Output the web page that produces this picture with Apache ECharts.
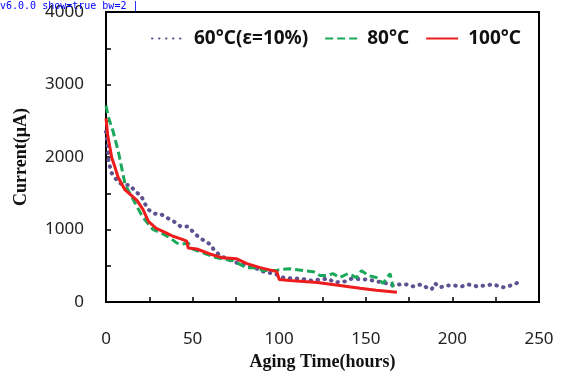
<!DOCTYPE html>
<html><head><meta charset="utf-8">
<script>
window.__errs = [];
window.addEventListener('error', e => window.__errs.push('E:' + e.message));
const _ce = console.error, _cw = console.warn;
console.error = function() { window.__errs.push('CE:' + Array.from(arguments).join(' ')); _ce.apply(console, arguments); };
console.warn = function() { window.__errs.push('CW:' + Array.from(arguments).join(' ')); _cw.apply(console, arguments); };
</script>
<script src="https://cdn.jsdelivr.net/npm/echarts@6/dist/echarts.min.js"></script>
<style>html,body{margin:0;padding:0;background:#fff}#c{width:570px;height:376px}#d{position:absolute;left:0;top:0;font:10px monospace;color:#00f;white-space:pre-wrap;width:560px}</style>
</head><body><div id="c"></div><div id="d"></div>
<script>
const xTicks = [0, 50, 100, 150, 200, 250];
const yTicks = [0, 1000, 2000, 3000, 4000];
const seriesNames = ['60°C(\u03b5=10%)', '80°C', '100°C'];

const hours60 = [0,1,1.5,3,5,7,10,14,17,20,22.5,24.5,28,32,36,40,43,47,50,53,57,60,62,66,70,75.6,81,87,89,93,97.6,102,108,112,118,124.7,128,132,138,142,149.5,154,162,165.8,169.7,173.5,177,182,185,188,190,192.8,196.8,200.6,205.5,209,214,219,223.6,229,234,238];
const current60 = [2350,2150,1950,1790,1722,1654,1613,1613,1519,1478,1356,1275,1220,1207,1152,1100,1044,1044,976,908,840,800,732,637,597,542,501,461,434,407,393,339,325,325,298,312,325,271,285,325,312,298,258,230,244,244,217,244,203,176,258,203,230,230,217,244,217,230,244,203,230,271];

const hours80 = [0,1.2,4,7,9,11,12.7,16,21,27,32,36,41,44,47.5,50,56,64,73.5,81,87,90.8,98.5,100,106,113.9,119.7,123.6,127.4,131,135,139.8,144.7,147.5,151.4,156,160,164,165.8];
const current80 = [2712,2563,2360,2088,1858,1627,1546,1400,1180,1003,950,900,813,800,813,732,678,610,569,475,475,434,434,447,461,434,420,366,366,393,339,393,339,434,366,339,258,393,203];

const hours100 = [0,1,3.3,5.2,7,11,15.6,18,21.4,24.5,29,35,38.7,43.7,46.6,47.5,52.4,60,67.5,75.5,81.4,89,98.6,100,106,122,135,146.6,156,168];
const current100 = [2535,2300,1993,1858,1722,1546,1450,1400,1275,1112,1017,950,908,868,840,745,732,664,610,597,530,475,420,312,298,271,230,190,163,136];

const zip = (a, b) => a.map((v, i) => [v, b[i]]);

const chart = echarts.init(document.getElementById('c'));
try {
chart.setOption({
  animation: false,
  grid: {left: 106, right: 31, top: 12, bottom: 69, show: true, borderColor: '#000', borderWidth: 2},
  legend: {
    top: 24, left: 146, itemWidth: 32, itemHeight: 10, itemGap: 16,
    itemStyle: {opacity: 0},
    textStyle: {fontFamily: 'Noto Sans', fontWeight: 'bold', fontSize: 19, color: '#111', padding: [0, 0, 0, 5]},
    data: seriesNames
  },
  xAxis: {
    type: 'value', min: 0, max: 250, interval: 25,
    axisLine: {show: true, onZero: false, lineStyle: {color: '#000', width: 1.5}},
    axisTick: {show: true, inside: true, length: 5, lineStyle: {color: '#000', width: 1.5}},
    splitLine: {show: false},
    axisLabel: {margin: 29, fontFamily: 'Noto Sans', fontSize: 17, color: '#222',
      formatter: v => xTicks.includes(v) ? String(v) : ''},
    name: 'Aging Time(hours)', nameLocation: 'middle', nameGap: 46,
    nameTextStyle: {fontFamily: 'Liberation Serif', fontWeight: 'bold', fontSize: 18, color: '#111'}
  },
  yAxis: {
    type: 'value', min: 0, max: 4000, interval: 500,
    axisLine: {show: true, onZero: false, lineStyle: {color: '#000', width: 1.5}},
    axisTick: {show: true, inside: true, length: 5, lineStyle: {color: '#000', width: 1.5}},
    splitLine: {show: false},
    axisLabel: {margin: 22, fontFamily: 'Noto Sans', fontSize: 17, color: '#222',
      formatter: v => yTicks.includes(v) ? String(v) : ''},
    name: 'Current(\u03bcA)', nameLocation: 'middle', nameGap: 76,
    nameTextStyle: {fontFamily: 'Liberation Serif', fontWeight: 'bold', fontSize: 18, color: '#111'}
  },
  series: [
    {name: seriesNames[0], type: 'line', data: zip(hours60, current60), symbol: 'none', z: 2,
      itemStyle: {color: '#5e5290'},
      lineStyle: {color: '#5e5290', width: 4, type: [0.5, 6.5], cap: 'round'}},
    {name: seriesNames[1], type: 'line', data: zip(hours80, current80), symbol: 'none', z: 3,
      itemStyle: {color: '#1aa85a'},
      lineStyle: {color: '#1aa85a', width: 3, type: [8, 4]}},
    {name: seriesNames[2], type: 'line', data: zip(hours100, current100), symbol: 'none', z: 4,
      itemStyle: {color: '#ee1c1c'},
      lineStyle: {color: '#ee1c1c', width: 3}}
  ]
});
} catch (e) { window.__errs.push('T:' + e.message); }
setTimeout(() => {
  const g = chart.getOption().grid[0];
  document.getElementById('d').textContent = 'v' + echarts.version + ' show=' + g.show + ' bw=' + g.borderWidth + ' | ' + window.__errs.join(' | ').slice(0, 600);
}, 50);
</script></body></html>
